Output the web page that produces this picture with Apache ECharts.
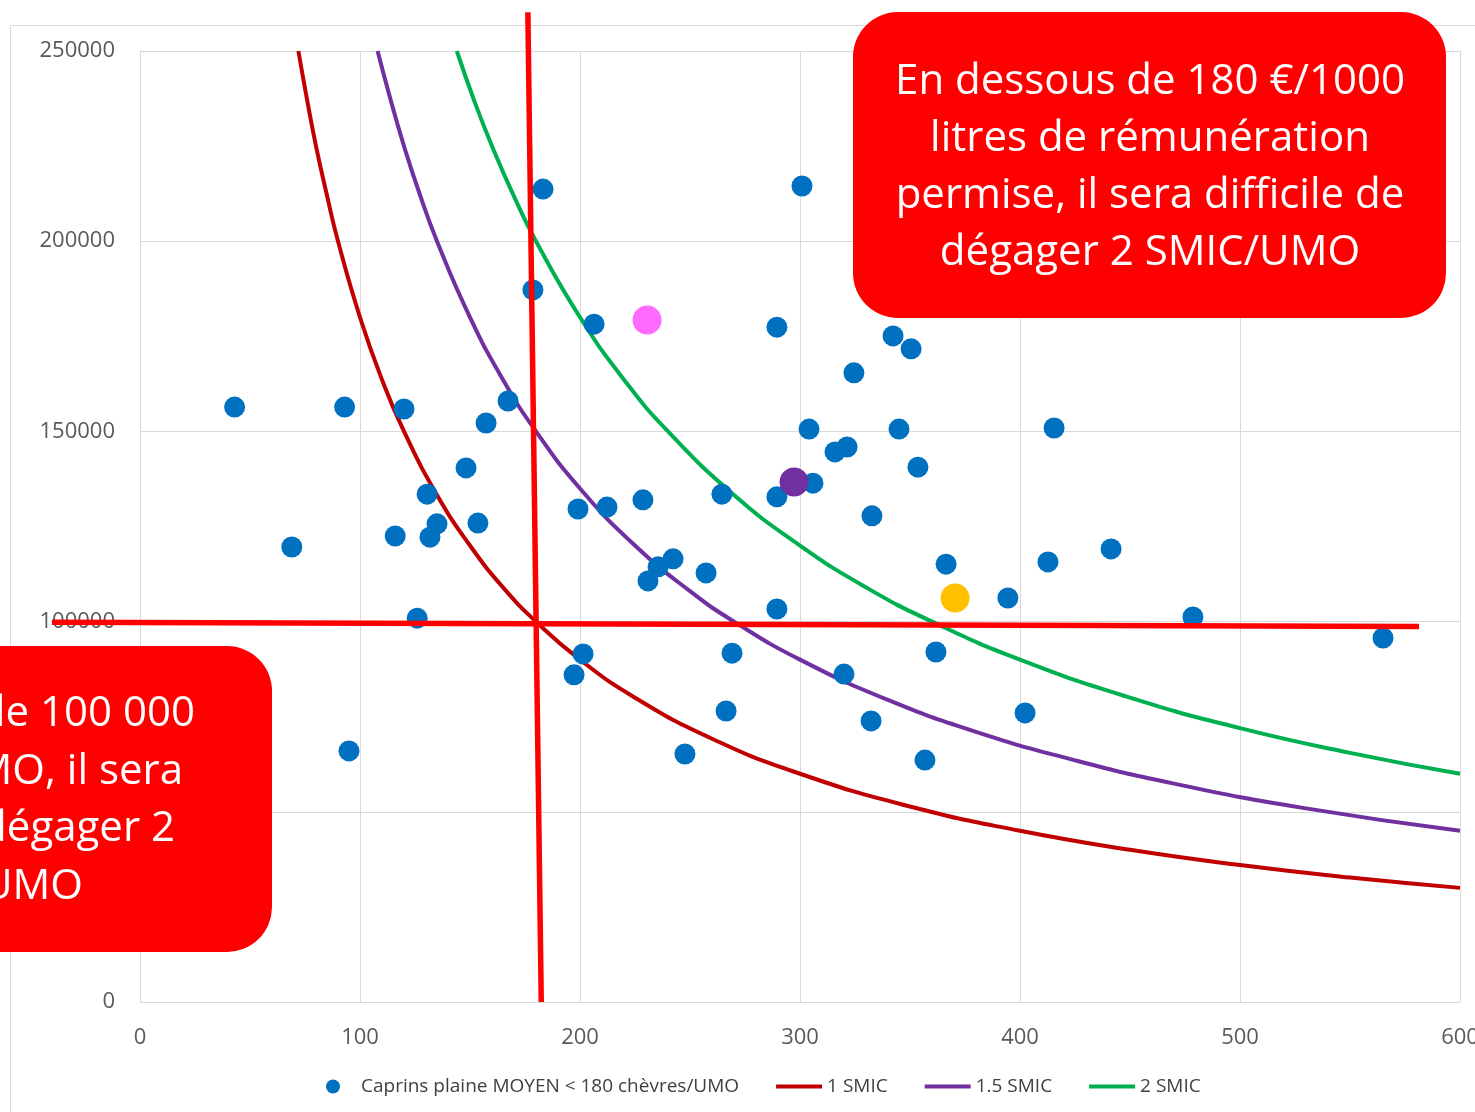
<!DOCTYPE html>
<html>
<head>
<meta charset="utf-8">
<script src="https://cdn.jsdelivr.net/npm/echarts/dist/echarts.min.js"></script>
<style>
  html, body { margin: 0; padding: 0; background: #fff; }
  #chart { width: 1475px; height: 1112px; }
</style>
</head>
<body>
<div id="chart"></div>
<script>
// exploitations caprins plaine : [rémunération €/1000 l, produit €/UMO]
var caprinsPts = [
  [43, 156400], [69, 119600], [93, 156400], [95, 66000], [120, 155900],
  [116, 122500], [126, 100900], [130.5, 133500], [131.8, 122200], [135, 125700],
  [148.2, 140400], [153.6, 125900], [157.3, 152200], [167.3, 158000], [178.6, 187200],
  [183.2, 213700], [199.1, 129600], [206.4, 178200], [201.4, 91500], [197.3, 86000],
  [212.3, 130100], [228.6, 132000], [230.9, 110700], [235.5, 114400], [242.3, 116500],
  [247.7, 65200], [257.3, 112800], [264.5, 133500], [266.4, 76500], [269.1, 91700],
  [289.5, 103300], [289.5, 177400], [289.5, 132800], [300.9, 214500], [304.1, 150600],
  [305.9, 136400], [315.9, 144600], [321.4, 145900], [320, 86200], [324.5, 165400],
  [332.3, 73900], [332.7, 127800], [342.3, 175100], [345, 150600], [350.5, 171700],
  [353.6, 140600], [356.8, 63600], [361.8, 92000], [366.4, 115100], [394.5, 106200],
  [402.3, 76000], [412.7, 115700], [415.5, 150900], [441.4, 119100], [478.6, 101200],
  [565, 95700]
];

// points mis en évidence (rose, violet, jaune)
var highlightPts = [[230.5, 179300], [297.3, 136700], [370.5, 106200]];
var highlightColors = ['#FF6BFF', '#7030A0', '#FFC000'];

// courbes iso-revenu
var smic1 = [
  [72, 250000], [76, 237000], [80, 225000], [85, 212000], [90, 200000], [100, 180000],
  [110, 163600], [120, 150000], [135, 133300], [150, 120000], [165, 109000], [180, 100000],
  [200, 90000], [225, 80000], [260, 69200], [300, 60000], [350, 51400], [400, 45000],
  [450, 40000], [500, 36000], [550, 32700], [600, 30000]
];
var smic15 = [
  [108, 250000], [114, 237000], [120, 225000], [127, 212600], [135, 200000], [150, 180000],
  [165, 163600], [180, 150000], [200, 135000], [225, 120000], [250, 108000], [270, 100000],
  [300, 90000], [340, 79400], [380, 71000], [420, 64300], [470, 57400], [530, 50900],
  [600, 45000]
];
var smic2 = [
  [144, 250000], [152, 236800], [160, 225000], [170, 211800], [180, 200000], [200, 180000],
  [220, 163600], [240, 150000], [270, 133300], [300, 120000], [330, 109000], [360, 100000],
  [400, 90000], [450, 80000], [500, 72000], [550, 65500], [600, 60000]
];

// seuils tracés à la main (180 €/1000 l et 100 000 €/UMO)
var seuilV = [[176.3, 260200], [182.4, 0]];
var seuilH = [[-40, 99800], [581.4, 98700]];

var xTicks = { min: 0, max: 600, interval: 100 };
var yTicks = { min: 0, max: 250000, interval: 50000 };

var legendNames = ['Caprins plaine MOYEN < 180 chèvres/UMO', '1 SMIC', '1.5 SMIC', '2 SMIC'];

var FONT = '"Open Sans", "Noto Sans", sans-serif';
var LINE_ICON = 'path://M0,0H46V4H0Z';
var chart = echarts.init(document.getElementById('chart'), null, { renderer: 'canvas' });

function curve(name, data, color) {
  return {
    name: name, type: 'line', data: data, z: 2,
    smooth: 0.5, symbol: 'none', silent: true,
    lineStyle: { color: color, width: 4 }, itemStyle: { color: color }
  };
}

function boxLine(text, x, y, align) {
  return {
    type: 'text', z: 101, silent: true, x: x, y: y,
    style: {
      text: text, fill: '#fff', fontSize: 42, fontFamily: FONT, lineHeight: 57,
      align: align, verticalAlign: 'middle', textAlign: align, textVerticalAlign: 'middle'
    }
  };
}

var option = {
  animation: false,
  backgroundColor: '#fff',
  textStyle: { fontFamily: FONT },
  grid: { left: 140, top: 51, right: 15, bottom: 110, containLabel: false, outerBoundsMode: 'none' },
  xAxis: {
    type: 'value', min: xTicks.min, max: xTicks.max, interval: xTicks.interval,
    axisLine: { show: true, lineStyle: { color: '#d9d9d9', width: 1 } },
    axisTick: { show: false },
    splitLine: { show: true, lineStyle: { color: '#d9d9d9', width: 1 } },
    axisLabel: { color: '#595959', fontSize: 22, fontFamily: FONT, margin: 25,
      showMaxLabel: true, showMinLabel: true, formatter: function (v) { return String(v); } }
  },
  yAxis: {
    type: 'value', min: yTicks.min, max: yTicks.max, interval: yTicks.interval,
    axisLine: { show: true, lineStyle: { color: '#d9d9d9', width: 1 } },
    axisTick: { show: false },
    splitLine: { show: true, lineStyle: { color: '#d9d9d9', width: 1 } },
    axisLabel: { color: '#595959', fontSize: 22, fontFamily: FONT, margin: 25,
      padding: [5, 0, 0, 0], formatter: function (v) { return String(v); } }
  },
  legend: {
    left: 321, top: 1072, itemWidth: 46, itemHeight: 14, itemGap: 37,
    textStyle: { color: '#404040', fontSize: 19, fontFamily: FONT },
    data: [
      { name: legendNames[0], icon: 'circle' },
      { name: legendNames[1], icon: LINE_ICON },
      { name: legendNames[2], icon: LINE_ICON },
      { name: legendNames[3], icon: LINE_ICON }
    ]
  },
  series: [
    curve(legendNames[1], smic1, '#C00000'),
    curve(legendNames[2], smic15, '#7030A0'),
    curve(legendNames[3], smic2, '#00B050'),
    {
      name: legendNames[0], type: 'scatter', data: caprinsPts, z: 3,
      symbol: 'circle', symbolSize: 21, itemStyle: { color: '#0070C0', opacity: 1 }
    },
    {
      name: 'repères', type: 'scatter', z: 4, symbolSize: 29,
      data: highlightPts.map(function (p, i) {
        return { value: p, itemStyle: { color: highlightColors[i], opacity: 1 } };
      })
    }
  ]
};

chart.setOption(option);

// les deux seuils rouges débordent de la zone de tracé : on les place via les échelles du graphique
function seuilGraphic(pts) {
  var a = chart.convertToPixel({ gridIndex: 0 }, pts[0]);
  var b = chart.convertToPixel({ gridIndex: 0 }, pts[1]);
  return {
    type: 'line', z: 50, silent: true,
    shape: { x1: a[0], y1: a[1], x2: b[0], y2: b[1] },
    style: { stroke: '#FF0000', lineWidth: 5.5 }
  };
}

chart.setOption({
  graphic: [
    // cadre extérieur du graphique
    { type: 'rect', z: 0, silent: true,
      shape: { x: 10.5, y: 25.5, width: 1500, height: 1200 },
      style: { fill: 'none', stroke: '#d9d9d9', lineWidth: 1 } },
    seuilGraphic(seuilV),
    seuilGraphic(seuilH),
    // encadré haut droit
    { type: 'rect', z: 100, silent: true,
      shape: { x: 853, y: 12, width: 593, height: 306, r: 45 },
      style: { fill: '#FF0000' } },
    boxLine('En dessous de 180 €/1000\nlitres de rémunération\npermise, il sera difficile de\ndégager 2 SMIC/UMO', 1150, 168, 'center'),
    // encadré bas gauche (coupé par le bord)
    { type: 'rect', z: 100, silent: true,
      shape: { x: -330, y: 646, width: 602, height: 306, r: 45 },
      style: { fill: '#FF0000' } },
    boxLine('En dessous de 100 000', 195, 714, 'right'),
    boxLine('€ de produit/UMO, il sera', 183, 772, 'right'),
    boxLine('difficile de dégager 2', 175, 829, 'right'),
    boxLine('SMIC/UMO', 83, 887, 'right')
  ]
});
</script>
</body>
</html>
